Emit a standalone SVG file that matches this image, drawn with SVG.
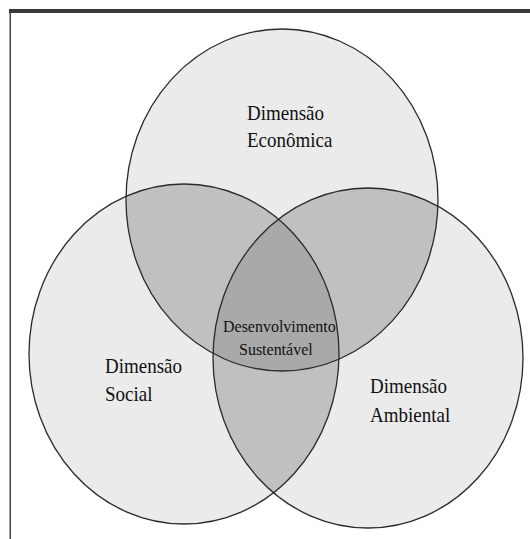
<svg xmlns="http://www.w3.org/2000/svg" width="530" height="539" viewBox="0 0 530 539">
<style>
.base{fill:#ebebeb;stroke:none}
.two{fill:#c0c0c0;stroke:none}
.three{fill:#a9a9a9;stroke:none}
.ring{fill:none;stroke:#2a2a2a;stroke-width:1.3}
.lbl{font-family:"Liberation Serif","Times New Roman",serif;font-size:19px;fill:#111}
.lbl2{font-family:"Liberation Serif","Times New Roman",serif;font-size:16px;fill:#111}
</style>
<defs>
<ellipse id="eT" cx="282" cy="200" rx="156" ry="171"/>
<ellipse id="eL" cx="184" cy="354" rx="155" ry="170"/>
<ellipse id="eR" cx="368" cy="358" rx="155" ry="170"/>
<clipPath id="cT"><use href="#eT"/></clipPath>
<clipPath id="cL"><use href="#eL"/></clipPath>
<clipPath id="cR"><use href="#eR"/></clipPath>
</defs>
<rect width="530" height="539" fill="#ffffff"/>
<rect x="9" y="9" width="521" height="4" fill="#3a3a3a"/>
<rect x="9.5" y="13" width="1.5" height="526" fill="#444"/>
<g id="shading">
<use href="#eT" class="base"/>
<use href="#eL" class="base"/>
<use href="#eR" class="base"/>
<g clip-path="url(#cT)"><use href="#eL" class="two"/><use href="#eR" class="two"/></g>
<g clip-path="url(#cL)"><use href="#eR" class="two"/></g>
<g clip-path="url(#cT)"><g clip-path="url(#cL)"><use href="#eR" class="three"/></g></g>
</g>
<g id="economica">
<use href="#eT" class="ring"/>
<text class="lbl" transform="translate(247,120) scale(1,1.1)">Dimensão</text>
<text class="lbl" transform="translate(247,147) scale(1,1.1)">Econômica</text>
</g>
<g id="social">
<use href="#eL" class="ring"/>
<text class="lbl" transform="translate(105,373) scale(1,1.1)">Dimensão</text>
<text class="lbl" transform="translate(105,401) scale(1,1.1)">Social</text>
</g>
<g id="ambiental">
<use href="#eR" class="ring"/>
<text class="lbl" transform="translate(370,393) scale(1,1.1)">Dimensão</text>
<text class="lbl" transform="translate(370,422) scale(1,1.1)">Ambiental</text>
</g>
<g id="sustentavel">
<text class="lbl2" transform="translate(223,332) scale(1,1.1)">Desenvolvimento</text>
<text class="lbl2" transform="translate(239,355) scale(1,1.1)">Sustentável</text>
</g>
<g id="connectors"/>
</svg>
